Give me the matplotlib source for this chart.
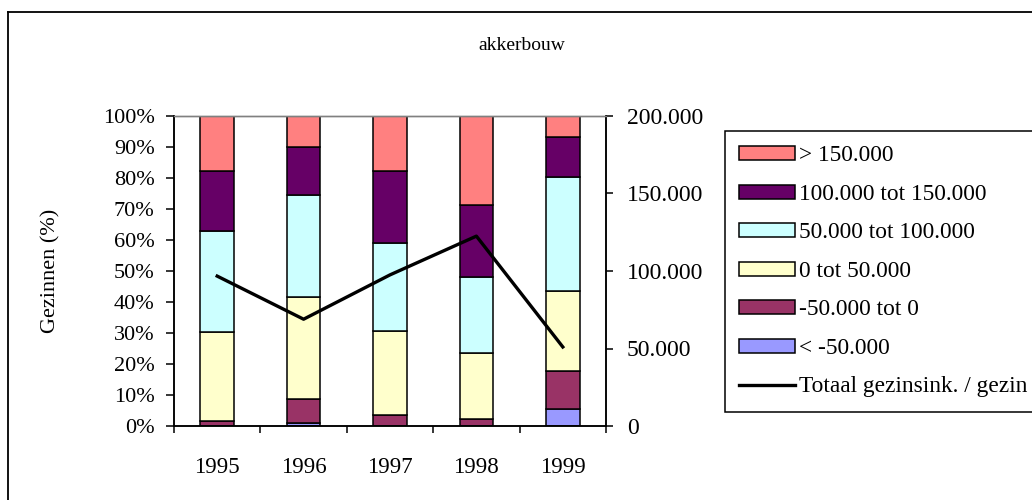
import matplotlib
matplotlib.use("Agg")
import matplotlib.pyplot as plt
from matplotlib.patches import Patch
from matplotlib.lines import Line2D
from matplotlib.ticker import FuncFormatter, FixedLocator
import numpy as np

plt.rcParams['font.family'] = ['Liberation Serif', 'DejaVu Serif']

years = ['1995', '1996', '1997', '1998', '1999']
lt_min50 = [0.0, 1.0, 0.0, 0.0, 5.4]
min50_0 = [1.6, 7.8, 3.5, 2.4, 12.4]
t0_50 = [28.6, 32.9, 27.2, 21.3, 25.8]
t50_100 = [32.8, 32.8, 28.2, 24.4, 36.8]
t100_150 = [19.3, 15.6, 23.4, 23.2, 12.9]
gt150 = [17.7, 9.9, 17.7, 28.7, 6.7]
totaal = [96700, 68900, 97500, 122500, 51000]

series = [
    ('< -50.000', lt_min50, '#9999FF'),
    ('-50.000 tot 0', min50_0, '#993366'),
    ('0 tot 50.000', t0_50, '#FFFFCC'),
    ('50.000 tot 100.000', t50_100, '#CCFFFF'),
    ('100.000 tot 150.000', t100_150, '#660066'),
    ('> 150.000', gt150, '#FF8080'),
]
line_label = 'Totaal gezinsink. / gezin'

W, H = 1032, 500
fig = plt.figure(figsize=(W / 100, H / 100), dpi=100)
ax = fig.add_axes([174 / W, 1 - 426 / H, (606 - 174) / W, (426 - 116) / H])

x = np.arange(len(years))
bottom = np.zeros(len(years))
for name, vals, col in series:
    v = np.array(vals)
    ax.bar(x, v, width=0.39, bottom=bottom, color=col, edgecolor='black',
           linewidth=1.1, zorder=2)
    bottom += v

ax.set_xlim(-0.5, len(years) - 0.5)
ax.set_ylim(0, 100)
ax.set_yticks(np.arange(0, 101, 10))
ax.yaxis.set_major_formatter(FuncFormatter(lambda v, p: f"{int(v)}%"))
ax.set_xticks(x)
ax.set_xticklabels(years)
ax.xaxis.set_minor_locator(FixedLocator(np.arange(-0.5, len(years), 1.0)))
ax.tick_params(axis='x', which='major', length=0, pad=22, labelsize=16.5)
ax.tick_params(axis='x', which='minor', length=5, width=1.1, direction='out')
ax.tick_params(axis='y', length=6, width=1.1, direction='out', pad=8, labelsize=16)

for s in ['left', 'bottom', 'right']:
    ax.spines[s].set_linewidth(1.1)
    ax.spines[s].set_color('black')
ax.spines['top'].set_color('#808080')
ax.spines['top'].set_linewidth(1.0)

ax.set_ylabel('Gezinnen (%)', fontsize=16, va='center')
ax.yaxis.set_label_coords((51 - 174) / 432, 0.5)

ax2 = ax.twinx()
ax2.plot(x, totaal, color='black', linewidth=2.4, zorder=3)
ax2.set_ylim(0, 200000)
ax2.set_yticks(np.arange(0, 200001, 50000))
ax2.yaxis.set_major_formatter(FuncFormatter(lambda v, p: f"{int(v):,}".replace(',', '.')))
ax2.tick_params(axis='y', length=5, width=1.1, direction='out', pad=10, labelsize=17)
for s in ['left', 'bottom', 'right']:
    ax2.spines[s].set_linewidth(1.1)
ax2.spines['top'].set_color('#808080')
ax2.spines['top'].set_linewidth(1.0)

# legend
handles = [Patch(facecolor=col, edgecolor='black', linewidth=1.1, label=name)
           for name, vals, col in reversed(series)]
handles.append(Line2D([0], [0], color='black', linewidth=2.4, label=line_label))
leg = fig.legend(handles=handles, loc='upper left',
                 bbox_to_anchor=(725 / W, 1 - 131 / H), fontsize=16.8,
                 frameon=True, fancybox=False, framealpha=1, edgecolor='black',
                 handlelength=2.4, handleheight=0.57, handletextpad=0.15,
                 labelspacing=0.75, borderpad=0.62, borderaxespad=0)
leg.get_frame().set_linewidth(1.1)

# title
fig.text(522 / W, 1 - 45 / H, 'akkerbouw', ha='center', va='center', fontsize=14)

# outer chart border
fig.add_artist(Line2D([8 / W, 8 / W], [0, 1 - 12 / H], transform=fig.transFigure,
                      color='black', linewidth=1.3))
fig.add_artist(Line2D([8 / W, 1], [1 - 12 / H, 1 - 12 / H], transform=fig.transFigure,
                      color='black', linewidth=1.3))

fig.savefig('out.png', dpi=100)
